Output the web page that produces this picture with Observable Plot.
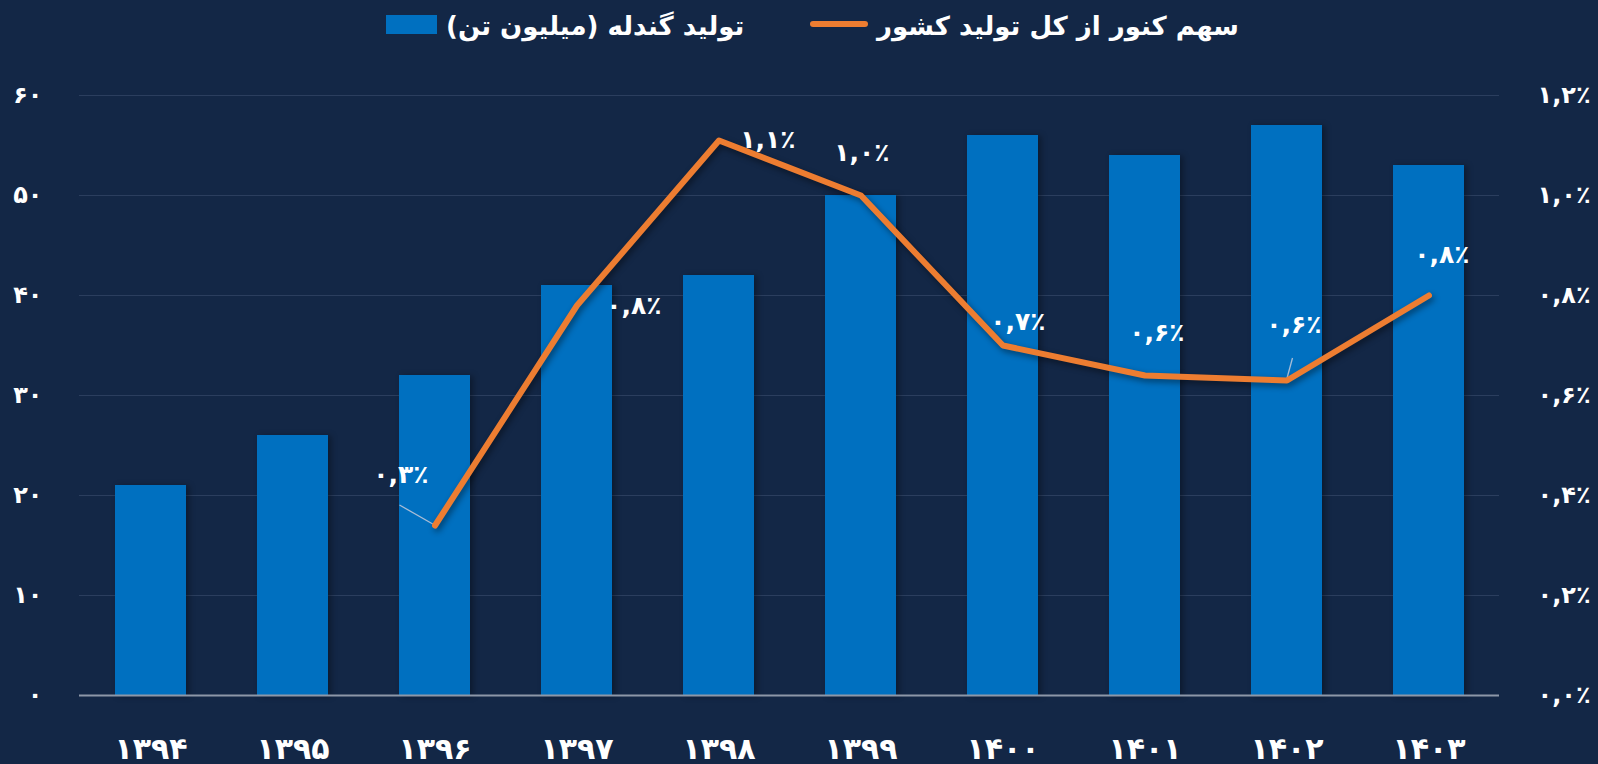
<!DOCTYPE html>
<html>
<head>
<meta charset="utf-8">
<script src="https://cdn.jsdelivr.net/npm/d3@7"></script>
<script src="https://cdn.jsdelivr.net/npm/@observablehq/plot@0.6"></script>
<style>
  html, body { margin: 0; padding: 0; background: #132746; }
  body { width: 1598px; height: 764px; overflow: hidden; position: relative; font-family: "DejaVu Sans", sans-serif; }
  #legend { position: relative; height: 55px; color: #fff; font-weight: bold; font-size: 26px; }
  #legend .sw1 { position: absolute; left: 386px; top: 15px; width: 51px; height: 19px; background: #0070c0; }
  #legend .t1 { position: absolute; left: 446px; top: 11px; direction: rtl; white-space: nowrap; }
  #legend .sw2 { position: absolute; left: 810px; top: 21px; width: 58px; height: 6px; border-radius: 3px; background: #ed7d31; }
  #legend .t2 { position: absolute; left: 877px; top: 11px; direction: rtl; white-space: nowrap; }
  #chart svg { display: block; }
</style>
</head>
<body>
<div id="legend"></div>
<div id="chart"></div>
<script>
// ---- data ----
const years = ["۱۳۹۴","۱۳۹۵","۱۳۹۶","۱۳۹۷","۱۳۹۸","۱۳۹۹","۱۴۰۰","۱۴۰۱","۱۴۰۲","۱۴۰۳"];
const production = [21, 26, 32, 41, 42, 50, 56, 54, 57, 53];          // million tonnes
const share = [null, null, 0.34, 0.78, 1.11, 1.00, 0.70, 0.64, 0.63, 0.80]; // percent
const leftTicks = [0, 10, 20, 30, 40, 50, 60];
const rightTickLabels = ["۰,۰٪","۰,۲٪","۰,۴٪","۰,۶٪","۰,۸٪","۱,۰٪","۱,۲٪"];
const legendLabels = ["تولید گندله (میلیون تن)", "سهم کنور از کل تولید کشور"];

// ---- layout config (not data) ----
const labelOffsets = [null, null, [-34,-51], [57,0], [49,-1], [1,-43], [15,-24], [12,-43], [7,-56], [13,-41]];
const leaders = [{i: 2, dx: -35, dy: -20}, {i: 8, dx: 6, dy: -22}];
const shareToLeft = 60 / 1.2;

const faDigits = "۰۱۲۳۴۵۶۷۸۹";
const toFa = s => String(s).replace(/\d/g, d => faDigits[d]);
const fmtShare = v => toFa(v.toFixed(1)).replace(".", ",") + "٪";

const data = years.map((y, i) => ({year: y, production: production[i], share: share[i], i}));
const lineData = data.filter(d => d.share != null);

document.getElementById("legend").innerHTML =
  `<div class="sw1"></div><div class="t1">${legendLabels[0]}</div>` +
  `<div class="sw2"></div><div class="t2">${legendLabels[1]}</div>`;

const font = "DejaVu Sans, sans-serif";

const labelMarks = lineData.map(d => Plot.text([d], {
  x: "year", y: v => v.share * shareToLeft, text: v => fmtShare(v.share),
  dx: labelOffsets[d.i][0], dy: labelOffsets[d.i][1],
  fill: "white", fontSize: 25, fontWeight: "bold", fontFamily: font
}));

const leaderMark = (index, scales) => {
  const g = d3.create("svg:g");
  const bw = scales.x.bandwidth ? scales.x.bandwidth() / 2 : 0;
  for (const L of leaders) {
    const d = data[L.i];
    const x = scales.x(d.year) + bw, y = scales.y(d.share * shareToLeft);
    g.append("line").attr("x1", x).attr("y1", y).attr("x2", x + L.dx).attr("y2", y + L.dy)
      .attr("stroke", "#a9bdd6").attr("stroke-width", 1.3);
  }
  return g.node();
};

const chart = Plot.plot({
  width: 1598, height: 709,
  marginLeft: 79, marginRight: 99, marginTop: 40, marginBottom: 69,
  style: {background: "transparent", color: "white", fontFamily: font, fontWeight: "bold", overflow: "visible"},
  x: {domain: years, paddingInner: 0.5, paddingOuter: 0.25},
  y: {domain: [0, 60]},
  marks: [
    Plot.gridY(leftTicks.slice(1), {stroke: "#2b3e5e", strokeOpacity: 1, strokeWidth: 1.2}),
    Plot.barY(data, {x: "year", y: "production", fill: "#0070c0"}),
    Plot.ruleY([0], {stroke: "#8d97a8", strokeWidth: 2}),
    leaderMark,
    Plot.line(lineData, {x: "year", y: d => d.share * shareToLeft, stroke: "#ed7d31", strokeWidth: 6, strokeLinecap: "round", strokeLinejoin: "round"}),
    ...labelMarks,
    Plot.axisX({tickSize: 0, tickPadding: 42, fontSize: 30, fontWeight: "bold", label: null, fill: "white"}),
    Plot.axisY(leftTicks, {anchor: "left", tickSize: 0, tickPadding: 37, tickFormat: d => toFa(d), fontSize: 24, fontWeight: "bold", label: null, fill: "white"}),
    Plot.axisY(leftTicks, {anchor: "right", tickSize: 0, tickPadding: 38, tickFormat: d => rightTickLabels[leftTicks.indexOf(d)], fontSize: 24, fontWeight: "bold", label: null, fill: "white"})
  ]
});
document.getElementById("chart").appendChild(chart);
chart.querySelectorAll('[aria-label="line"] path').forEach(p => p.style.filter = "drop-shadow(2px 3px 3px rgba(0,0,0,0.45))");
chart.querySelectorAll('[aria-label="bar"] rect').forEach(r => r.style.filter = "drop-shadow(3px 1px 3px rgba(0,0,0,0.35))");
</script>
</body>
</html>
